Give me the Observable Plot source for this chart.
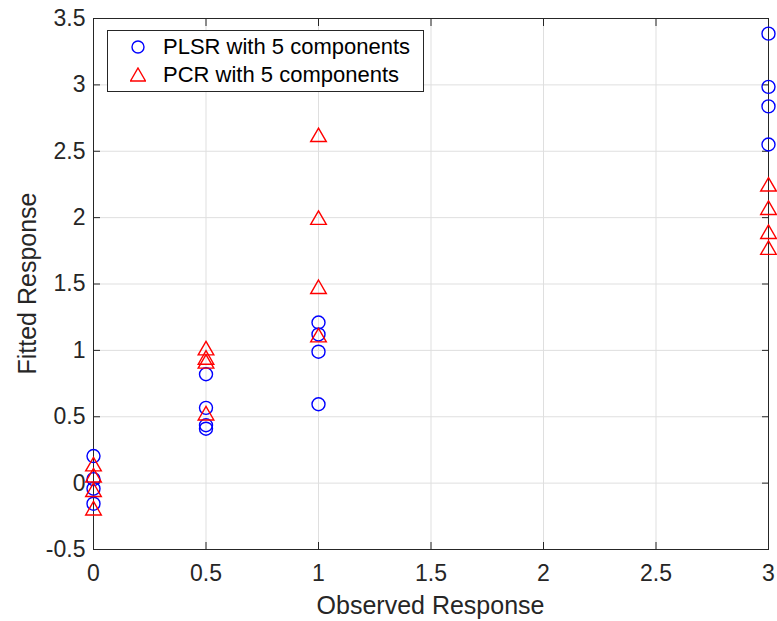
<!DOCTYPE html>
<html>
<head>
<meta charset="utf-8">
<script src="https://cdn.jsdelivr.net/npm/d3@7"></script>
<script src="https://cdn.jsdelivr.net/npm/@observablehq/plot@0.6"></script>
<style>
  html, body { margin: 0; padding: 0; background: #fff; }
  #wrap { position: relative; width: 777px; height: 621px; font-family: "Liberation Sans", Arial, sans-serif; }
  #legend { position: absolute; left: 107px; top: 30px; width: 317px; height: 62px; border: 1px solid #262626; background: #fff; box-sizing: border-box; font-size: 22px; color: #000; }
  #legend .row { position: absolute; left: 0; height: 26px; display: flex; align-items: center; }
  #legend svg { margin-left: 22px; margin-right: 17px; }
</style>
</head>
<body>
<div id="wrap"></div>
<script>
const observed = [0, 0, 0, 0, 0.5, 0.5, 0.5, 0.5, 1, 1, 1, 1, 3, 3, 3, 3];
const plsrFitted = [0.204, 0.03, -0.042, -0.155, 0.82, 0.567, 0.436, 0.41, 1.21, 1.12, 0.99, 0.594, 3.386, 2.985, 2.838, 2.551];
const pcrFitted = [0.126, 0.043, -0.067, -0.206, 1.0, 0.93, 0.90, 0.51, 2.607, 1.983, 1.462, 1.098, 2.234, 2.058, 1.877, 1.757];
const xTicks = [0, 0.5, 1, 1.5, 2, 2.5, 3];
const yTicks = [-0.5, 0, 0.5, 1, 1.5, 2, 2.5, 3, 3.5];
const seriesNames = ["PLSR with 5 components", "PCR with 5 components"];

const plsr = observed.map((x, i) => ({x, y: plsrFitted[i]}));
const pcr = observed.map((x, i) => ({x, y: pcrFitted[i]}));
const fmt = d => String(d);
const none = () => "";

const chart = Plot.plot({
  width: 777,
  height: 621,
  marginLeft: 93,
  marginRight: 9,
  marginTop: 18,
  marginBottom: 72,
  style: {fontFamily: "'Liberation Sans', Arial, sans-serif", fontSize: "23px", color: "#262626", background: "#fff"},
  x: {domain: [0, 3]},
  y: {domain: [-0.5, 3.5]},
  marks: [
    Plot.gridX(xTicks, {stroke: "#dfdfdf", strokeOpacity: 1, strokeWidth: 1}),
    Plot.gridY(yTicks, {stroke: "#dfdfdf", strokeOpacity: 1, strokeWidth: 1}),
    Plot.frame({stroke: "#262626", strokeWidth: 1}),
    Plot.axisX(xTicks, {anchor: "bottom", tickSize: -7, tickPadding: 22, tickFormat: fmt, fontSize: 23, label: null, stroke: "#262626"}),
    Plot.axisX(xTicks, {anchor: "top", tickSize: -7, tickFormat: none, label: null, stroke: "#262626"}),
    Plot.axisY(yTicks, {anchor: "left", tickSize: -7, tickPadding: 15, tickFormat: fmt, fontSize: 23, label: null, stroke: "#262626"}),
    Plot.axisY(yTicks, {anchor: "right", tickSize: -7, tickFormat: none, label: null, stroke: "#262626"}),
    Plot.dot(plsr, {x: "x", y: "y", symbol: "circle", r: 6.5, stroke: "#0000ff", strokeWidth: 1.4, fill: "none"}),
    Plot.dot(pcr, {x: "x", y: "y", symbol: "triangle", r: 5.8, stroke: "#ff0000", strokeWidth: 1.4, fill: "none"})
  ]
});

// axis titles as svg text
const svg = d3.select(chart);
svg.append("text").attr("x", (93 + 768) / 2).attr("y", 614)
  .attr("text-anchor", "middle").attr("font-size", 25).attr("fill", "#262626").text("Observed Response");
svg.append("text").attr("transform", "translate(36," + (18 + 549) / 2 + ") rotate(-90)")
  .attr("text-anchor", "middle").attr("font-size", 25).attr("fill", "#262626").text("Fitted Response");

const wrap = document.getElementById("wrap");
wrap.appendChild(chart);

const legend = document.createElement("div");
legend.id = "legend";
legend.innerHTML = `
  <div class="row" style="top:3px">
    <svg width="16" height="16" viewBox="-8 -8 16 16"><circle r="6" fill="none" stroke="#0000ff" stroke-width="1.4"/></svg>
    <span>${seriesNames[0]}</span>
  </div>
  <div class="row" style="top:31px">
    <svg width="16" height="16" viewBox="-8 -8 16 16"><path d="M0,-7L7.5,6L-7.5,6Z" fill="none" stroke="#ff0000" stroke-width="1.4"/></svg>
    <span>${seriesNames[1]}</span>
  </div>`;
wrap.appendChild(legend);
</script>
</body>
</html>
